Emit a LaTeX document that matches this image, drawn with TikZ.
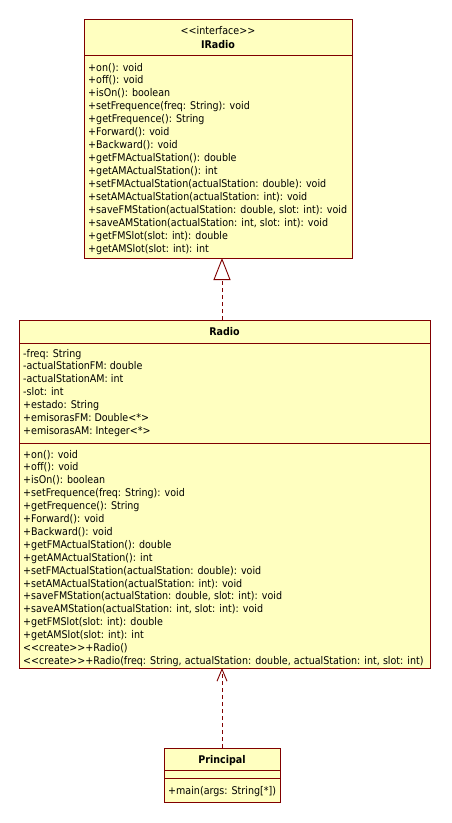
\documentclass[tikz,border=0pt]{standalone}
\usepackage{fontspec}
\setmainfont{DejaVu Sans}[FakeStretch=0.9, Ligatures=TeXOff]
\usetikzlibrary{arrows.meta}
\definecolor{umlfill}{RGB}{255,255,192}
\definecolor{umlline}{RGB}{128,0,0}
\begin{document}
\begin{tikzpicture}[x=1pt,y=-1pt,
  box/.style={draw=umlline, fill=umlfill, line width=1pt, anchor=north west, inner sep=0pt, outer sep=0pt},
  txt/.style={anchor=base west, inner sep=0pt, font=\fontsize{10.6}{12}\selectfont},
  ctxt/.style={anchor=base, inner sep=0pt, font=\fontsize{10.6}{12}\selectfont},
  btxt/.style={anchor=base, inner sep=0pt, font=\fontsize{10.6}{12}\selectfont\bfseries},
  dep/.style={draw=umlline, line width=0.9pt, dash pattern=on 4pt off 3pt}]
\useasboundingbox[fill=white] (0,0) rectangle (451,823);
% IRadio
\node[box, minimum width=268pt, minimum height=36pt] (irhead) at (84,19) {};
\node[box, minimum width=268pt, minimum height=203pt] (irmeth) at (84,55) {};
\node[ctxt] (irst) at (218,34) {<<interface>>};
\node[btxt] (irname) at (218,48) {IRadio};
\foreach \t [count=\i from 0] in {{+on(): void},{+off(): void},{+isOn(): boolean},{+setFrequence(freq: String): void},{+getFrequence(): String},{+Forward(): void},{+Backward(): void},{+getFMActualStation(): double},{+getAMActualStation(): int},{+setFMActualStation(actualStation: double): void},{+setAMActualStation(actualStation: int): void},{+saveFMStation(actualStation: double, slot: int): void},{+saveAMStation(actualStation: int, slot: int): void},{+getFMSlot(slot: int): double},{+getAMSlot(slot: int): int}}
  \node[txt] (irm\i) at (88,{71+12.93*\i}) {\t};
% Radio
\node[box, minimum width=411pt, minimum height=23pt] (radhead) at (19,320) {};
\node[box, minimum width=411pt, minimum height=100pt] (radattr) at (19,343) {};
\node[box, minimum width=411pt, minimum height=225pt] (radmeth) at (19,443) {};
\node[btxt] (radname) at (224.5,335) {Radio};
\foreach \t [count=\i from 0] in {{-freq: String},{-actualStationFM: double},{-actualStationAM: int},{-slot: int},{+estado: String},{+emisorasFM: Double<*>},{+emisorasAM: Integer<*>}}
  \node[txt] (ra\i) at (23,{357+12.93*\i}) {\t};
\foreach \t [count=\i from 0] in {{+on(): void},{+off(): void},{+isOn(): boolean},{+setFrequence(freq: String): void},{+getFrequence(): String},{+Forward(): void},{+Backward(): void},{+getFMActualStation(): double},{+getAMActualStation(): int},{+setFMActualStation(actualStation: double): void},{+setAMActualStation(actualStation: int): void},{+saveFMStation(actualStation: double, slot: int): void},{+saveAMStation(actualStation: int, slot: int): void},{+getFMSlot(slot: int): double},{+getAMSlot(slot: int): int},{<<create>>+Radio()},{<<create>>+Radio(freq: String, actualStation: double, actualStation: int, slot: int)}}
  \node[txt] (rm\i) at (23,{458+12.9*\i}) {\t};
% Principal
\node[box, minimum width=116pt, minimum height=22pt] (prhead) at (164,748) {};
\node[box, minimum width=116pt, minimum height=8pt] (prattr) at (164,770) {};
\node[box, minimum width=116pt, minimum height=24pt] (prmeth) at (164,778) {};
\node[btxt] (prname) at (222,763) {Principal};
\node[txt] (prm0) at (168,794) {+main(args: String[*])};
% connectors
\draw[dep, -{Triangle[open, length=22pt, width=17pt, fill=white]}] (radhead.north -| prhead.north) -- (irmeth.south -| prhead.north);
\draw[dep, -{Straight Barb[length=12pt, width=10pt]}] (prhead.north) -- (radmeth.south -| prhead.north);
\end{tikzpicture}
\end{document}
